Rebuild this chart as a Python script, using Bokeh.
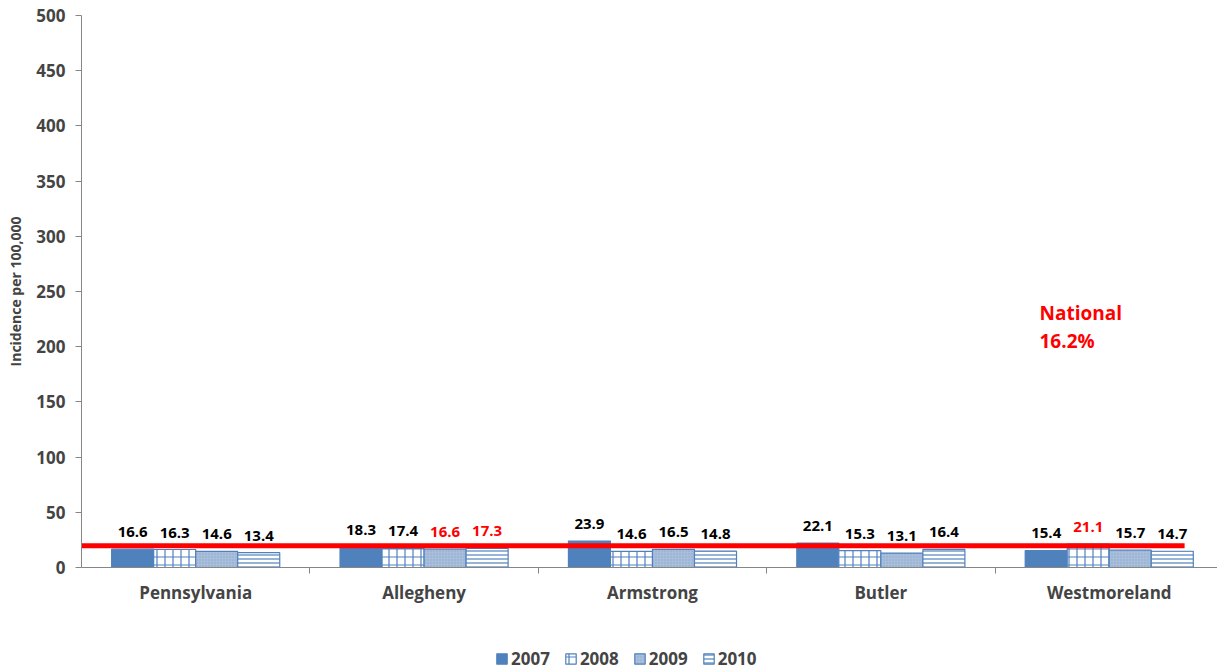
from bokeh.plotting import figure
from bokeh.layouts import column
from bokeh.models import (Range1d, FixedTicker, ColumnDataSource, Legend, LegendItem, Label)
from bokeh.embed import file_html
from bokeh.resources import INLINE
from bokeh.core.properties import value

categories = ["Pennsylvania", "Allegheny", "Armstrong", "Butler", "Westmoreland"]
years = ["2007", "2008", "2009", "2010"]
v2007 = [16.6, 18.3, 23.9, 22.1, 15.4]
v2008 = [16.3, 17.4, 14.6, 15.3, 21.1]
v2009 = [14.6, 16.6, 16.5, 13.1, 15.7]
v2010 = [13.4, 17.3, 14.8, 16.4, 14.7]
label_colors = [
    ["black"] * 5,
    ["black", "black", "black", "black", "red"],
    ["black", "red", "black", "black", "black"],
    ["black", "red", "black", "black", "black"],
]
national_label = "National\n16.2%"
national_line_value = 19.8
y_ticks = list(range(0, 501, 50))

FONT = "Open Sans"
BLUE = "#4F81BD"

p = figure(width=1217, height=610, output_backend="svg", toolbar_location=None,
           x_range=Range1d(0, 4.974), y_range=Range1d(0, 500),
           min_border_left=81, min_border_right=0, min_border_top=15, min_border_bottom=43)
p.outline_line_color = None
p.xgrid.visible = False
p.ygrid.visible = False

series = [v2007, v2008, v2009, v2010]
bw = 0.184
offsets = [-1.5 * bw, -0.5 * bw, 0.5 * bw, 1.5 * bw]
styles = [
    dict(fill_color=BLUE),
    dict(fill_color="white", hatch_pattern="+", hatch_color=BLUE, hatch_scale=8, hatch_weight=1.2),
    dict(fill_color="#A9BEDB", hatch_pattern=".", hatch_color="#8FA9CE", hatch_scale=3, hatch_weight=1),
    dict(fill_color="white", hatch_pattern="-", hatch_color=BLUE, hatch_scale=4, hatch_weight=1.2),
]
for s, off, st, cols in zip(series, offsets, styles, label_colors):
    xs = [i + 0.5 + off for i in range(len(categories))]
    src = ColumnDataSource(dict(x=xs, top=s, lab=[f"{v:.1f}" for v in s], col=cols))
    p.vbar(x="x", top="top", width=bw, bottom=0, source=src,
           line_color=BLUE, line_width=1.2, **st)
    p.text(x="x", y="top", text="lab", source=src, text_color="col",
           text_align="center", text_baseline="middle", y_offset=-17,
           text_font=value(FONT), text_font_style="bold", text_font_size="15px")

# national line
p.segment(x0=0, x1=4.83, y0=national_line_value, y1=national_line_value,
          line_color="#FF0000", line_width=5)
p.add_layout(Label(x=958, y=213, x_units="screen", y_units="screen", text=national_label,
                   text_color="#FF0000", text_font=FONT, text_font_style="bold",
                   text_font_size="19px", text_line_height=1.1))

# axes
xa = p.xaxis[0]
xa.ticker = FixedTicker(ticks=[i + 0.5 for i in range(len(categories))],
                        minor_ticks=[1, 2, 3, 4])
xa.major_label_overrides = {i + 0.5: c for i, c in enumerate(categories)}
xa.major_tick_line_color = None
xa.minor_tick_line_color = "#868686"
xa.minor_tick_out = 6
xa.minor_tick_in = 0
xa.axis_line_color = "#868686"
xa.major_label_text_font = FONT
xa.major_label_text_font_style = "bold"
xa.major_label_text_font_size = "17px"
xa.major_label_standoff = 7

ya = p.yaxis[0]
ya.ticker = FixedTicker(ticks=y_ticks)
ya.minor_tick_line_color = None
ya.major_tick_out = 6
ya.major_tick_in = 0
ya.major_tick_line_color = "#868686"
ya.axis_line_color = "#868686"
ya.major_label_text_font = FONT
ya.major_label_text_font_style = "bold"
ya.major_label_text_font_size = "17px"
ya.major_label_standoff = 10
ya.axis_label = "Incidence per 100,000"
ya.axis_label_text_font = FONT
ya.axis_label_text_font_style = "bold"
ya.axis_label_text_font_size = "14px"
ya.axis_label_standoff = 8

# legend strip (legend swatches only; the dummy bars lie outside its visible range)
p2 = figure(width=1217, height=60, output_backend="svg", toolbar_location=None,
            x_range=Range1d(0, 1), y_range=Range1d(0, 1),
            x_axis_location=None, y_axis_location=None,
            min_border_left=0, min_border_right=0, min_border_top=0, min_border_bottom=0)
p2.outline_line_color = None
p2.xgrid.visible = False
p2.ygrid.visible = False
leg_renderers = []
for st in styles:
    r = p2.vbar(x=[-5], top=[-5], width=0.1, bottom=-6, line_color=BLUE, line_width=1.2, **st)
    leg_renderers.append(r)

legend = Legend(items=[LegendItem(label=y, renderers=[r]) for y, r in zip(years, leg_renderers)],
                orientation="horizontal", location=(414, 0),
                label_text_font=FONT, label_text_font_style="bold", label_text_font_size="17px",
                glyph_width=13, glyph_height=13, spacing=14, label_standoff=3,
                border_line_color=None, background_fill_alpha=0, padding=0, margin=0)
p2.add_layout(legend)

open("out.html", "w").write(file_html(column(p, p2), INLINE))
